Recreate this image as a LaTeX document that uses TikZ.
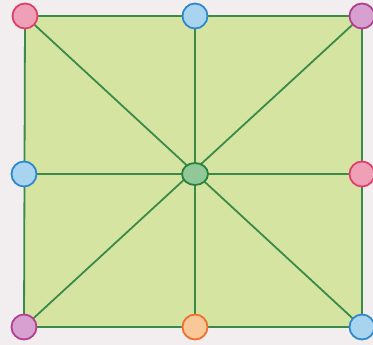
\documentclass[tikz,border=0pt]{standalone}
\usetikzlibrary{shapes.geometric}
\begin{document}
\begin{tikzpicture}[x=1pt,y=-1pt,
  ln/.style={draw=lineg,line width=1.8pt},
  dot/.style={circle,minimum size=25pt,inner sep=0pt,line width=1.8pt},
  pinkdot/.style={dot,draw=pinkS,fill=pinkF},
  bluedot/.style={dot,draw=blueS,fill=blueF},
  purpdot/.style={dot,draw=purpS,fill=purpF},
  orgdot/.style={dot,draw=orgS,fill=orgF},
  grndot/.style={ellipse,draw=grnS,fill=grnF,minimum width=26pt,minimum height=22pt,inner sep=0pt,line width=1.8pt}]
\definecolor{lineg}{HTML}{3A8A4A}
\definecolor{fillg}{HTML}{D6E4A2}
\definecolor{bg}{HTML}{F2EEF0}
\definecolor{pinkS}{HTML}{E0406E}
\definecolor{pinkF}{HTML}{F0A0B6}
\definecolor{blueS}{HTML}{3088D0}
\definecolor{blueF}{HTML}{A8D4F0}
\definecolor{purpS}{HTML}{B04090}
\definecolor{purpF}{HTML}{D8A0D0}
\definecolor{orgS}{HTML}{F07030}
\definecolor{orgF}{HTML}{F8C898}
\definecolor{grnS}{HTML}{2A8040}
\definecolor{grnF}{HTML}{90C898}
\fill[bg] (0,0) rectangle (373,345);
\useasboundingbox (0,0) rectangle (373,345);
\coordinate (TL) at (25,16);
\coordinate (TM) at (195,16);
\coordinate (TR) at (362,16);
\coordinate (ML) at (24,174);
\coordinate (C) at (195,174);
\coordinate (MR) at (362,174);
\coordinate (BL) at (24,327);
\coordinate (BM) at (195,327);
\coordinate (BR) at (362,327);
\fill[fillg] (TL) -- (TR) -- (BR) -- (BL) -- cycle;
\draw[ln] (TL) -- (TR) -- (BR) -- (BL) -- cycle;
\draw[ln] (TL) -- (BR);
\draw[ln] (TR) -- (BL);
\draw[ln] (TM) -- (BM);
\draw[ln] (ML) -- (MR);
\node[pinkdot] (tl) at (TL) {};
\node[bluedot] (tm) at (TM) {};
\node[purpdot] (tr) at (TR) {};
\node[bluedot] (ml) at (ML) {};
\node[grndot] (c) at (C) {};
\node[pinkdot] (mr) at (MR) {};
\node[purpdot] (bl) at (BL) {};
\node[orgdot] (bm) at (BM) {};
\node[bluedot] (br) at (BR) {};
\end{tikzpicture}
\end{document}
